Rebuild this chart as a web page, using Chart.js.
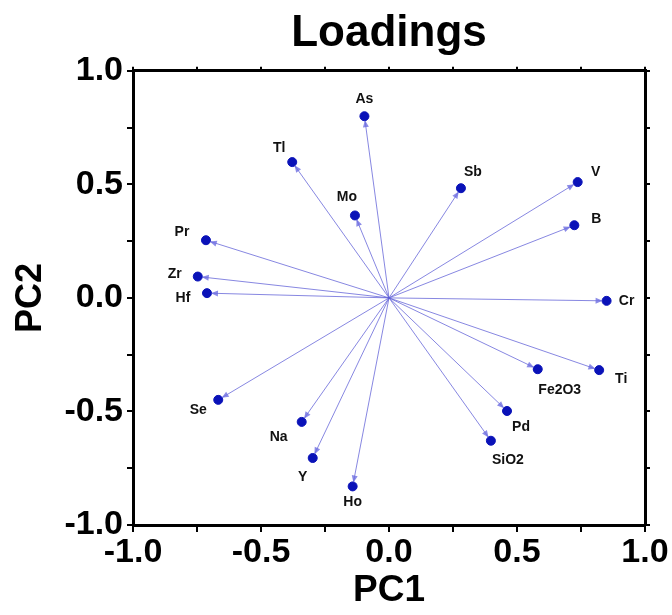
<!DOCTYPE html>
<html lang="en">
<head>
    <meta charset="UTF-8">
    <title>Loadings</title>
    <style>
        body {
            margin: 0;
            padding: 0;
            background: white;
        }

        #wrap {
            width: 672px;
            height: 615px;
        }
    </style>
</head>
<body>
    <div id="wrap"><canvas id="loadChart" width="672" height="615"></canvas></div>

    <script src="https://cdn.jsdelivr.net/npm/chart.js"></script>
    <script>
        // Variabelen en hun ladingen op PC1 / PC2
        const variables = ["As", "Tl", "Mo", "Pr", "Zr", "Hf", "Sb", "V", "B", "Cr",
                           "Fe2O3", "Ti", "Pd", "SiO2", "Se", "Na", "Y", "Ho"];
        const pc1 = [-0.096, -0.378, -0.133, -0.715, -0.747, -0.711, 0.281, 0.737, 0.724, 0.850,
                     0.581, 0.821, 0.461, 0.398, -0.667, -0.341, -0.298, -0.142];
        const pc2 = [0.800, 0.598, 0.363, 0.254, 0.094, 0.021, 0.483, 0.510, 0.320, -0.013,
                     -0.314, -0.318, -0.498, -0.629, -0.449, -0.546, -0.705, -0.830];
        const axisTicks = [-1.0, -0.5, 0.0, 0.5, 1.0];

        // Waar het label naast de punt staat (pixels)
        const labelOffset = {
            "As": [0, -17], "Tl": [-13, -14], "Mo": [-8, -18], "Pr": [-24, -8],
            "Zr": [-23, -2], "Hf": [-24, 5], "Sb": [12, -16], "V": [18, -10],
            "B": [22, -6], "Cr": [20, 0], "Fe2O3": [22, 21], "Ti": [22, 9],
            "Pd": [14, 16], "SiO2": [17, 19], "Se": [-20, 10], "Na": [-23, 15],
            "Y": [-10, 19], "Ho": [0, 16]
        };

        const lineColor = "rgba(95, 95, 215, 0.75)";
        const dotColor = "#0a12b8";
        const fontFamily = "'Liberation Sans', Arial, Helvetica, sans-serif";

        // Lijnen van de oorsprong naar elk punt
        const datasets = variables.map((name, i) => ({
            label: name,
            type: "line",
            data: [{ x: 0, y: 0 }, { x: pc1[i], y: pc2[i] }],
            borderColor: lineColor,
            borderWidth: 1,
            pointRadius: 0,
            fill: false,
            order: 2
        }));

        datasets.push({
            label: "points",
            type: "scatter",
            data: variables.map((name, i) => ({ x: pc1[i], y: pc2[i] })),
            backgroundColor: dotColor,
            borderColor: dotColor,
            pointRadius: 4.5,
            order: 1
        });

        // Pijlpunten en labels tekenen
        const arrowPlugin = {
            id: "arrows",
            afterDatasetsDraw(chart) {
                const ctx = chart.ctx;
                const xs = chart.scales.x;
                const ys = chart.scales.y;
                const ox = xs.getPixelForValue(0);
                const oy = ys.getPixelForValue(0);
                ctx.save();
                variables.forEach((name, i) => {
                    const px = xs.getPixelForValue(pc1[i]);
                    const py = ys.getPixelForValue(pc2[i]);
                    const ang = Math.atan2(py - oy, px - ox);
                    const tipX = px - Math.cos(ang) * 4;
                    const tipY = py - Math.sin(ang) * 4;
                    const len = 7, half = 3;
                    const bx = tipX - Math.cos(ang) * len;
                    const by = tipY - Math.sin(ang) * len;
                    ctx.beginPath();
                    ctx.moveTo(tipX, tipY);
                    ctx.lineTo(bx - Math.sin(ang) * half, by + Math.cos(ang) * half);
                    ctx.lineTo(bx + Math.sin(ang) * half, by - Math.cos(ang) * half);
                    ctx.closePath();
                    ctx.fillStyle = "rgba(110, 110, 225, 0.8)";
                    ctx.fill();

                    const off = labelOffset[name];
                    ctx.fillStyle = "#111";
                    ctx.font = "bold 14px " + fontFamily;
                    ctx.textAlign = "center";
                    ctx.textBaseline = "middle";
                    ctx.fillText(name, px + off[0], py + off[1]);
                });
                ctx.restore();
            }
        };

        function tickLabel(v) {
            const hit = axisTicks.find(t => Math.abs(t - v) < 1e-6);
            return hit === undefined ? "" : hit.toFixed(1);
        }

        const tickFont = { family: fontFamily, size: 34, weight: "bold" };

        new Chart(document.getElementById("loadChart"), {
            type: "scatter",
            data: { datasets: datasets },
            plugins: [arrowPlugin],
            options: {
                responsive: false,
                animation: false,
                layout: { padding: 0 },
                plugins: {
                    legend: { display: false },
                    tooltip: { enabled: false },
                    title: {
                        display: true,
                        fullSize: false,
                        text: "Loadings",
                        color: "#000",
                        font: { family: fontFamily, size: 44, weight: "bold", lineHeight: 1.2 },
                        padding: { top: 7, bottom: 11 }
                    }
                },
                scales: {
                    x: {
                        type: "linear",
                        position: "bottom",
                        min: -1, max: 1,
                        afterFit(scale) { scale.height = 90; },
                        border: { display: true, color: "#000", width: 3 },
                        grid: { drawOnChartArea: false, color: "#000", tickLength: 7, lineWidth: 2 },
                        ticks: {
                            stepSize: 0.25, autoSkip: false, maxRotation: 0,
                            color: "#000", font: tickFont, padding: 0,
                            callback: tickLabel
                        },
                        title: {
                            display: true, text: "PC1", color: "#000",
                            font: { family: fontFamily, size: 37, weight: "bold" },
                            padding: { top: 0, bottom: 2 }
                        }
                    },
                    y: {
                        type: "linear",
                        position: "left",
                        min: -1, max: 1,
                        afterFit(scale) { scale.width = 133; },
                        border: { display: true, color: "#000", width: 3 },
                        grid: { drawOnChartArea: false, color: "#000", tickLength: 6, lineWidth: 2 },
                        ticks: {
                            stepSize: 0.25, autoSkip: false,
                            color: "#000", font: tickFont, padding: 4,
                            callback: tickLabel
                        },
                        title: {
                            display: true, text: "PC2", color: "#000",
                            font: { family: fontFamily, size: 36, weight: "bold" },
                            padding: { top: 9, bottom: 0 }
                        }
                    },
                    xTop: {
                        type: "linear",
                        position: "top",
                        min: -1, max: 1,
                        afterFit(scale) { scale.height = 0; },
                        border: { display: true, color: "#000", width: 3 },
                        grid: { drawOnChartArea: false, color: "#000", tickLength: 4, lineWidth: 2 },
                        ticks: { display: false, stepSize: 0.25, autoSkip: false }
                    },
                    yRight: {
                        type: "linear",
                        position: "right",
                        min: -1, max: 1,
                        afterFit(scale) { scale.width = 27; },
                        border: { display: true, color: "#000", width: 3 },
                        grid: { drawOnChartArea: false, color: "#000", tickLength: 5, lineWidth: 2 },
                        ticks: { display: false, stepSize: 0.25, autoSkip: false }
                    }
                }
            }
        });
    </script>
</body>
</html>
